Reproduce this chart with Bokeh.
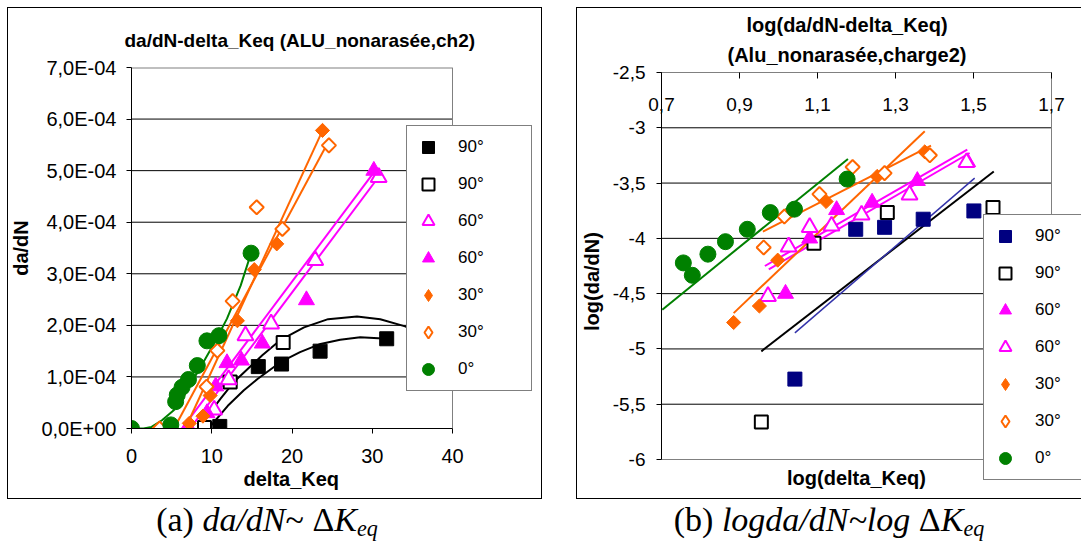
import numpy as np
from bokeh.plotting import figure
from bokeh.models import (Range1d, FixedTicker, LinearAxis, Legend, LegendItem,
                          Title, Div, Label)
from bokeh.layouts import row, column
from bokeh.embed import file_html
from bokeh.resources import INLINE

FONT = "Liberation Sans"

# ---------------- chart (a): da/dN (in 1E-4) vs delta_Keq ----------------
a_sq_f_x = [11.0, 15.8, 18.7, 23.5, 31.8]
a_sq_f_y = [0.04, 1.20, 1.25, 1.50, 1.74]
a_sq_o_x = [9.1, 12.3, 18.9, 35.5]
a_sq_o_y = [0.02, 0.90, 1.67, 1.90]
a_tri_o_x = [7.1, 10.3, 12.1, 14.2, 17.4, 22.9, 30.8]
a_tri_o_y = [0.0, 0.36, 0.95, 1.80, 2.03, 3.26, 4.87]
a_tri_f_x = [6.9, 9.4, 10.5, 11.9, 13.7, 16.3, 21.8, 30.2]
a_tri_f_y = [0.0, 0.30, 0.82, 1.27, 1.32, 1.65, 2.49, 5.00]
a_dia_f_x = [7.2, 8.9, 9.8, 13.2, 15.3, 18.1, 23.8]
a_dia_f_y = [0.10, 0.24, 0.64, 2.09, 3.08, 3.58, 5.78]
a_dia_o_x = [3.5, 9.35, 10.7, 12.6, 15.6, 18.8, 24.6]
a_dia_o_y = [0.0, 0.81, 1.51, 2.47, 4.29, 3.87, 5.49]
a_cir_x = [0.0, 4.9, 5.5, 5.7, 6.3, 7.1, 8.2, 9.4, 10.9, 14.9]
a_cir_y = [0.0, 0.07, 0.52, 0.65, 0.80, 0.95, 1.22, 1.70, 1.80, 3.40]

# trend curves
a_fit_sq_o_x = [8.3, 11.1, 12.75, 16.3, 18.6, 21.5, 24.5, 28.1, 31.0, 34.1, 36.5]
a_fit_sq_o_y = [0.0, 0.58, 0.90, 1.42, 1.72, 1.96, 2.12, 2.17, 2.12, 1.98, 1.80]
a_fit_sq_f_x = [9.6, 12.0, 14.0, 15.7, 18.6, 21.0, 23.55, 26.0, 28.5, 31.9]
a_fit_sq_f_y = [0.0, 0.44, 0.74, 0.96, 1.29, 1.48, 1.64, 1.72, 1.77, 1.74]
a_fit_cir_x = [0.0, 1.5, 2.5, 3.8, 5.3, 6.9, 8.6, 10.25, 11.9, 13.6, 14.9]
a_fit_cir_y = [0.0, 0.0, 0.03, 0.16, 0.36, 0.74, 1.19, 1.64, 2.13, 2.77, 3.40]
a_fit_tri_o_x = [6.3, 30.6]
a_fit_tri_o_y = [0.0, 5.05]
a_fit_tri_f_x = [7.3, 31.0]
a_fit_tri_f_y = [0.0, 4.92]
a_fit_dia_o_x = [5.3, 24.6]
a_fit_dia_o_y = [0.0, 5.58]
a_fit_dia_f_x = [6.7, 23.9]
a_fit_dia_f_y = [0.0, 5.81]

a_xticks = [0, 10, 20, 30, 40]
a_yticks = [0, 1, 2, 3, 4, 5, 6, 7]
a_ytick_labels = ["0,0E+00", "1,0E-04", "2,0E-04", "3,0E-04",
                  "4,0E-04", "5,0E-04", "6,0E-04", "7,0E-04"]

# ---------------- chart (b): log(da/dN) vs log(delta_Keq) ----------------
b_sq_f_x = [1.042, 1.198, 1.272, 1.371, 1.501]
b_sq_f_y = [-5.273, -3.918, -3.900, -3.827, -3.752]
b_sq_o_x = [0.956, 1.091, 1.279, 1.550]
b_sq_o_y = [-5.661, -4.045, -3.767, -3.722]
b_tri_f_x = [1.018, 1.080, 1.149, 1.240, 1.356, 1.485]
b_tri_f_y = [-4.500, -4.000, -3.743, -3.676, -3.480, -3.310]
b_tri_o_x = [0.973, 1.026, 1.080, 1.136, 1.213, 1.336, 1.482]
b_tri_o_y = [-4.524, -4.076, -3.900, -3.888, -3.788, -3.606, -3.313]
b_dia_f_x = [0.885, 0.951, 0.998, 1.122, 1.253, 1.375]
b_dia_f_y = [-4.761, -4.612, -4.197, -3.667, -3.440, -3.218]
b_dia_o_x = [0.962, 1.015, 1.105, 1.190, 1.272, 1.388]
b_dia_o_y = [-4.082, -3.803, -3.600, -3.355, -3.410, -3.249]
b_cir_x = [0.756, 0.779, 0.819, 0.864, 0.920, 0.979, 1.041, 1.176]
b_cir_y = [-4.222, -4.334, -4.143, -4.030, -3.918, -3.767, -3.736, -3.464]

b_fit_sq_o_x = [0.956, 1.552]
b_fit_sq_o_y = [-5.022, -3.395]
b_fit_sq_f_x = [1.042, 1.503]
b_fit_sq_f_y = [-4.855, -3.455]
b_fit_tri_f_x = [0.965, 1.484]
b_fit_tri_f_y = [-4.250, -3.197]
b_fit_tri_o_x = [0.975, 1.490]
b_fit_tri_o_y = [-4.280, -3.228]
b_fit_dia_f_x = [0.885, 1.375]
b_fit_dia_f_y = [-4.676, -3.031]
b_fit_dia_o_x = [0.960, 1.391]
b_fit_dia_o_y = [-3.940, -3.161]
b_fit_cir_x = [0.702, 1.178]
b_fit_cir_y = [-4.645, -3.282]

b_xticks = [0.7, 0.9, 1.1, 1.3, 1.5, 1.7]
b_xtick_labels = ["0,7", "0,9", "1,1", "1,3", "1,5", "1,7"]
b_yticks = [-2.5, -3.0, -3.5, -4.0, -4.5, -5.0, -5.5, -6.0]
b_ytick_labels = ["-2,5", "-3", "-3,5", "-4", "-4,5", "-5", "-5,5", "-6"]

legend_labels_a = ["90°", "90°", "60°", "60°", "30°", "30°", "0°"]
legend_labels_b = ["90°", "90°", "60°", "60°", "30°", "30°", "0°"]
SUB = '<sub style="font-size:65%;vertical-align:-0.22em;line-height:0">eq</sub>'
caption_a = f'(a) <i>da/dN</i>~ &Delta;<i>K{SUB}</i>'
caption_b = f'(b) <i>logda/dN~log</i> &Delta;<i>K{SUB}</i>'

BLACK = "#000000"
NAVY = "#000080"
MAGENTA = "#FF00FF"
ORANGE = "#FF6600"
GREEN = "#008000"
GRAY = "#808080"

# pixel scale of each plot area (reference: 0..40 over 321 px, 0..7 over 361 px;
# 0.7..1.7 over 390 px, -6..-2.5 over 387 px). The frames are a little larger than
# the drawn plot areas so that the legends, which overhang them, are not clipped.
A_PX_X = 321 / 40
B_PX_X = 390 / 1.0
B_PX_Y = 387 / 3.5


def style_axis(ax, size="20px"):
    ax.axis_line_color = BLACK
    ax.major_tick_line_color = BLACK
    ax.major_tick_out = 5
    ax.major_tick_in = 0
    ax.minor_tick_line_color = None
    ax.major_label_text_font = FONT
    ax.major_label_text_font_size = size
    ax.major_label_text_color = BLACK
    ax.axis_label_text_font = FONT
    ax.axis_label_text_font_size = "20px"
    ax.axis_label_text_font_style = "bold"
    ax.axis_label_text_color = BLACK


def marker_kw(color, filled):
    return dict(line_color=color, line_width=1 if filled else 2,
                fill_color=color if filled else "white")


def markers(p, x, y, kind, color, filled):
    kw = marker_kw(color, filled)
    if kind == "square":
        return p.scatter(x, y, marker="square", size=14 if filled else 13, **kw)
    if kind == "triangle":
        return p.scatter(x, y, marker="triangle", size=16, **kw)
    if kind == "diamond":
        # legend proxy (the legend never rotates markers): a diamond marker,
        # hidden under the first rotated square of the series
        proxy = p.scatter(x[:1], y[:1], marker="diamond", size=12, **kw)
        p.scatter(x, y, marker="square", angle=np.pi / 4, size=10, **kw)
        return proxy
    return p.scatter(x, y, marker="circle", size=16, **kw)


def make_legend(p, renderers, labels, loc):
    items = [LegendItem(label=l, renderers=[r]) for l, r in zip(labels, renderers)]
    lg = Legend(items=items, location=loc, orientation="vertical",
                glyph_width=30, glyph_height=30, spacing=7, padding=6,
                label_standoff=15, label_width=67,
                label_text_font=FONT, label_text_font_size="17px",
                label_text_color=BLACK, border_line_color=BLACK, border_line_width=1,
                background_fill_color="white", background_fill_alpha=1.0, margin=0)
    p.add_layout(lg)


# ======================= figure (a) =======================
A_FRAME_W = 405
p1 = figure(width=535, height=492,
            x_range=Range1d(0, A_FRAME_W / A_PX_X), y_range=Range1d(a_yticks[0], a_yticks[-1]),
            output_backend="svg", toolbar_location=None, title=None, frame_align=False,
            min_border_left=124, min_border_right=535 - 124 - A_FRAME_W,
            min_border_top=60, min_border_bottom=71,
            background_fill_color="white", border_fill_color=None,
            outline_line_color=None, margin=(7, 0, 0, 7),
            styles={"background-color": "white",
                    "box-shadow": "inset 1px 1px 0 0 #000, inset -1px -1px 0 0 #000"})
p1.add_layout(Title(text="da/dN-delta_Keq (ALU_nonarasée,ch2)", align="left", offset=-7,
                    standoff=34, text_font=FONT, text_font_size="19px",
                    text_font_style="bold", text_color=BLACK), "above")
ax1 = p1.xaxis[0]
ay1 = p1.yaxis[0]
style_axis(ax1)
style_axis(ay1)
ax1.ticker = FixedTicker(ticks=a_xticks)
ax1.bounds = (a_xticks[0], a_xticks[-1])
ax1.major_label_standoff = 15
ay1.ticker = FixedTicker(ticks=a_yticks)
ay1.bounds = (a_yticks[0], a_yticks[-1])
ay1.major_label_overrides = {t: l for t, l in zip(a_yticks, a_ytick_labels)}
ay1.major_label_standoff = 10
ay1.axis_label = "da/dN"
ay1.axis_label_standoff = 6
p1.add_layout(Title(text="delta_Keq", align="left", offset=112, standoff=0,
                    text_font=FONT, text_font_size="20px", text_font_style="bold",
                    text_color=BLACK), "below")
p1.xgrid.visible = False
p1.ygrid.visible = False

# gridlines and plot-area border, limited to the drawn plot area
a_grid = a_yticks[1:-1]
p1.segment(x0=[a_xticks[0]] * len(a_grid), y0=a_grid, x1=[a_xticks[-1]] * len(a_grid),
           y1=a_grid, line_color=BLACK, line_width=1)
p1.segment(x0=[a_xticks[0]], y0=[a_yticks[-1]], x1=[a_xticks[-1]], y1=[a_yticks[-1]],
           line_color=GRAY, line_width=2)
p1.segment(x0=[a_xticks[-1]], y0=[a_yticks[0]], x1=[a_xticks[-1]], y1=[a_yticks[-1]],
           line_color=GRAY, line_width=1)

p1.line(a_fit_sq_o_x, a_fit_sq_o_y, line_color=BLACK, line_width=2)
p1.line(a_fit_sq_f_x, a_fit_sq_f_y, line_color=BLACK, line_width=2)
p1.line(a_fit_tri_o_x, a_fit_tri_o_y, line_color=MAGENTA, line_width=2)
p1.line(a_fit_tri_f_x, a_fit_tri_f_y, line_color=MAGENTA, line_width=2)
p1.line(a_fit_dia_f_x, a_fit_dia_f_y, line_color=ORANGE, line_width=2)
p1.line(a_fit_dia_o_x, a_fit_dia_o_y, line_color=ORANGE, line_width=2)
p1.line(a_fit_cir_x, a_fit_cir_y, line_color=GREEN, line_width=2)

series_a = [
    (a_sq_f_x, a_sq_f_y, "square", BLACK, True),
    (a_sq_o_x, a_sq_o_y, "square", BLACK, False),
    (a_tri_o_x, a_tri_o_y, "triangle", MAGENTA, False),
    (a_tri_f_x, a_tri_f_y, "triangle", MAGENTA, True),
    (a_dia_f_x, a_dia_f_y, "diamond", ORANGE, True),
    (a_dia_o_x, a_dia_o_y, "diamond", ORANGE, False),
    (a_cir_x, a_cir_y, "circle", GREEN, True),
]
ra = [markers(p1, *s) for s in series_a]
make_legend(p1, ra, legend_labels_a, (275, 37))

# ======================= figure (b) =======================
B_FRAME_W = 420
B_FRAME_H = 418
p2 = figure(width=505, height=492,
            x_range=Range1d(b_xticks[0], b_xticks[0] + B_FRAME_W / B_PX_X),
            y_range=Range1d(b_yticks[0] - B_FRAME_H / B_PX_Y, b_yticks[0]),
            output_backend="svg", toolbar_location=None, title=None, frame_align=False,
            min_border_left=85, min_border_right=505 - 85 - B_FRAME_W,
            min_border_top=65, min_border_bottom=492 - 65 - B_FRAME_H,
            background_fill_color="white", border_fill_color=None,
            outline_line_color=None, margin=(7, 0, 0, 34),
            styles={"background-color": "white",
                    "box-shadow": "inset 1px 0 0 0 #000, inset 0 1px 0 0 #000, inset 0 -1px 0 0 #000"})
p2.xaxis.visible = False
by = p2.yaxis[0]

top_axis = LinearAxis(ticker=FixedTicker(ticks=b_xticks),
                      bounds=(b_xticks[0], b_xticks[-1]),
                      major_label_overrides={t: l for t, l in zip(b_xticks, b_xtick_labels)},
                      major_label_text_font=FONT, major_label_text_font_size="19px",
                      major_label_text_color=BLACK, major_label_standoff=-38,
                      major_tick_in=6, major_tick_out=0, minor_tick_line_color=None,
                      axis_line_color=GRAY, major_tick_line_color=BLACK)
p2.add_layout(top_axis, "above")
p2.add_layout(Title(text="(Alu_nonarasée,charge2)", align="left", offset=66, standoff=13,
                    text_font=FONT, text_font_size="20px", text_font_style="bold",
                    text_color=BLACK), "above")
p2.add_layout(Title(text="log(da/dN-delta_Keq)", align="left", offset=85, standoff=0,
                    text_font=FONT, text_font_size="20px", text_font_style="bold",
                    text_color=BLACK), "above")

style_axis(by, "19px")
by.ticker = FixedTicker(ticks=b_yticks)
by.bounds = (b_yticks[-1], b_yticks[0])
by.major_label_overrides = {t: l for t, l in zip(b_yticks, b_ytick_labels)}
by.major_label_standoff = 11
by.axis_label = "log(da/dN)"
by.axis_label_standoff = 7
p2.xgrid.visible = False
p2.ygrid.visible = False

b_grid = b_yticks[1:-1]
p2.segment(x0=[b_xticks[0]] * len(b_grid), y0=b_grid, x1=[b_xticks[-1]] * len(b_grid),
           y1=b_grid, line_color=BLACK, line_width=1)
p2.segment(x0=[b_xticks[0]], y0=[b_yticks[-1]], x1=[b_xticks[-1]], y1=[b_yticks[-1]],
           line_color=GRAY, line_width=1)
p2.segment(x0=[b_xticks[-1]], y0=[b_yticks[-1]], x1=[b_xticks[-1]], y1=[b_yticks[0]],
           line_color=GRAY, line_width=1)
p2.add_layout(Label(x=(b_xticks[0] + b_xticks[-1]) / 2, y=b_yticks[-1], y_offset=-18,
                    text="log(delta_Keq)", text_font=FONT, text_font_size="20px",
                    text_font_style="bold", text_color=BLACK,
                    text_align="center", text_baseline="middle"))

p2.line(b_fit_sq_o_x, b_fit_sq_o_y, line_color=BLACK, line_width=2)
p2.line(b_fit_sq_f_x, b_fit_sq_f_y, line_color="#3333AA", line_width=1.5)
p2.line(b_fit_tri_f_x, b_fit_tri_f_y, line_color=MAGENTA, line_width=2)
p2.line(b_fit_tri_o_x, b_fit_tri_o_y, line_color=MAGENTA, line_width=2)
p2.line(b_fit_dia_f_x, b_fit_dia_f_y, line_color=ORANGE, line_width=2)
p2.line(b_fit_dia_o_x, b_fit_dia_o_y, line_color=ORANGE, line_width=2)
p2.line(b_fit_cir_x, b_fit_cir_y, line_color=GREEN, line_width=2)

series_b = [
    (b_sq_f_x, b_sq_f_y, "square", NAVY, True),
    (b_sq_o_x, b_sq_o_y, "square", BLACK, False),
    (b_tri_f_x, b_tri_f_y, "triangle", MAGENTA, True),
    (b_tri_o_x, b_tri_o_y, "triangle", MAGENTA, False),
    (b_dia_f_x, b_dia_f_y, "diamond", ORANGE, True),
    (b_dia_o_x, b_dia_o_y, "diamond", ORANGE, False),
    (b_cir_x, b_cir_y, "circle", GREEN, True),
]
rb = [markers(p2, *s) for s in series_b]
make_legend(p2, rb, legend_labels_b, (322, 10))

# ======================= captions =======================
CAP = ("font-family:'Liberation Serif'; font-size:34px; line-height:36px; padding-top:1px; "
       "white-space:nowrap; color:#000; text-align:center;")
d1 = Div(text=f'<div style="{CAP} width:534px;">{caption_a}</div>',
         width=534, height=40, margin=(2, 0, 0, 0))
d2 = Div(text=f'<div style="{CAP} width:484px; padding-left:22px;">{caption_b}</div>',
         width=506, height=40, margin=(2, 0, 0, 42))

layout = column(row(p1, p2), row(d1, d2))
open("out.html", "w").write(file_html(layout, INLINE))
